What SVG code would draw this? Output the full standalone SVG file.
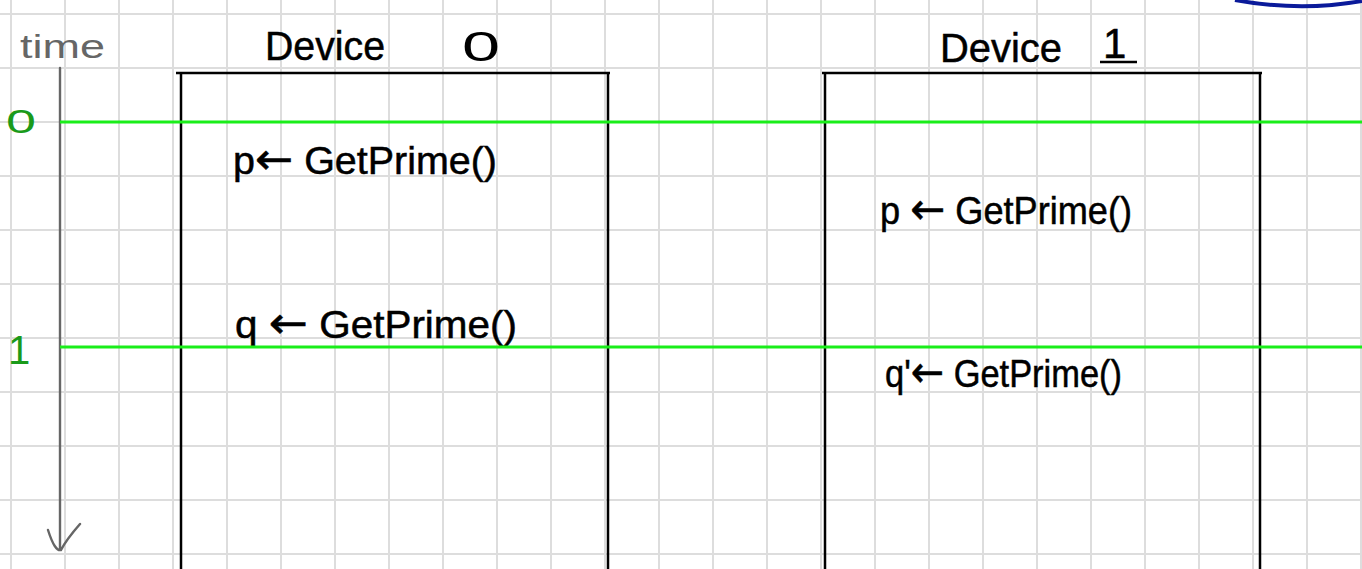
<svg xmlns="http://www.w3.org/2000/svg" width="1362" height="569" viewBox="0 0 1362 569">
<style>
.grid{stroke:#dddddd;stroke-width:2}
.box{fill:none;stroke:#000;stroke-width:2.5}
.hand{font-family:"Liberation Sans","DejaVu Sans",sans-serif;fill:#000;stroke:#000;stroke-width:0.5}
.arr{font-family:"DejaVu Sans",sans-serif;font-size:44px}
.green{stroke:#1aee1a;stroke-width:3}
.gl{font-family:"Liberation Sans",sans-serif;fill:#1a9a1a}
</style>
<defs>
<pattern id="g" x="10" y="13" width="54" height="54" patternUnits="userSpaceOnUse">
<path d="M1,0V54M0,1H54" class="grid" fill="none"/>
</pattern>
</defs>
<rect width="1362" height="569" fill="#fff"/>
<rect width="1362" height="569" fill="url(#g)"/>
<path d="M1235,0 Q1300,12 1362,1" fill="none" stroke="#0a1a9a" stroke-width="4"/>
<g id="axis">
<text x="20" y="58" font-family="Liberation Sans,sans-serif" font-size="34" fill="#666" textLength="85" lengthAdjust="spacingAndGlyphs">time</text>
<path d="M60,68V550M48,530Q55,552 61,550Q66,540 80,524" fill="none" stroke="#666" stroke-width="2.4" stroke-linecap="round"/>
<text x="6" y="133" class="gl" font-size="34" textLength="30" lengthAdjust="spacingAndGlyphs">0</text>
<text x="8" y="364" class="gl" font-size="40">1</text>
</g>
<g id="device0">
<path class="box" d="M176,73H610M181,73V569M608,73V569"/>
<text x="265" y="60" class="hand" font-size="40" textLength="120" lengthAdjust="spacingAndGlyphs">Device</text>
<text x="462" y="61" font-family="Liberation Sans,sans-serif" font-size="42" textLength="38" lengthAdjust="spacingAndGlyphs">0</text>
<text x="233" y="174" class="hand" font-size="38" textLength="264" lengthAdjust="spacingAndGlyphs">p<tspan class="arr">←</tspan> GetPrime()</text>
<text x="235" y="338" class="hand" font-size="38" textLength="282" lengthAdjust="spacingAndGlyphs">q <tspan class="arr">←</tspan> GetPrime()</text>
</g>
<g id="device1">
<path class="box" d="M822,73H1262M825,73V569M1260,73V569"/>
<text x="940" y="62" class="hand" font-size="40" textLength="122" lengthAdjust="spacingAndGlyphs">Device</text>
<text x="1103" y="58" class="hand" font-size="42">1</text>
<path d="M1100,62H1137" stroke="#000" stroke-width="2.5"/>
<text x="880" y="224" class="hand" font-size="38" textLength="252" lengthAdjust="spacingAndGlyphs">p <tspan class="arr">←</tspan> GetPrime()</text>
<text x="885" y="387" class="hand" font-size="38" textLength="237" lengthAdjust="spacingAndGlyphs">q'<tspan class="arr">←</tspan> GetPrime()</text>
</g>
<g id="connectors">
<path class="green" d="M60,122H1362M60,347H1362"/>
</g>
</svg>
